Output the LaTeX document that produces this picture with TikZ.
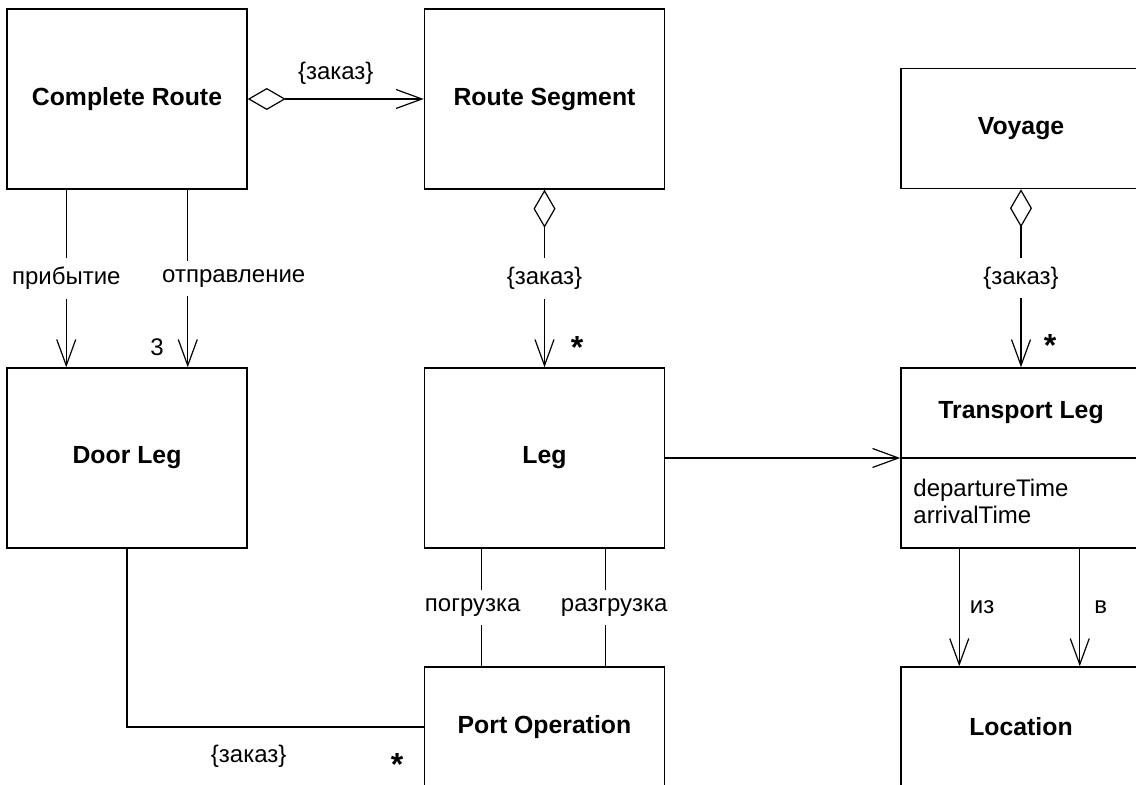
\documentclass[tikz,border=0pt]{standalone}
\usepackage{fontspec}
\setmainfont{Liberation Sans}
\usetikzlibrary{arrows.meta}

\begin{document}
\begin{tikzpicture}[x=0.5pt, y=-0.5pt,
    cls/.style={draw, line width=0.75pt, minimum width=120pt, minimum height=90pt, inner sep=0pt, font=\fontsize{12.4}{14}\selectfont\bfseries},
    clsflat/.style={cls, minimum height=60pt},
    txt/.style={font=\fontsize{12}{13.5}\selectfont, inner sep=2pt},
    lbl/.style={txt, fill=white, inner ysep=4.5pt},
    mult/.style={font=\fontsize{16}{18}\selectfont\bfseries, inner sep=0pt},
    conn/.style={line width=0.6pt},
    nav/.style={conn, -{Straight Barb[length=13pt, width=9.5pt]}},
    agg/.style={conn, {Diamond[open, length=19pt, width=11pt]}-{Straight Barb[length=13pt, width=9.5pt]}}]
    \useasboundingbox (0,0) rectangle (1136,785);
    \clip (0,0) rectangle (1136,785);

    % classes
    \node[cls] (route) at (127,99) {Complete Route};
    \node[cls] (seg) at (544.5,99) {Route Segment};
    \node[clsflat] (voyage) at (1021,128.5) {Voyage};
    \node[cls] (door) at (127,458) {Door Leg};
    \node[cls] (leg) at (544.5,458) {Leg};
    \node[cls] (trans) at (1021,458) {};
    \node[clsflat] (port) at (544.5,727) {Port Operation};
    \node[clsflat] (loc) at (1021,727) {Location};

    % Transport Leg: name and attributes
    \node[font=\fontsize{12.4}{14}\selectfont\bfseries] (transname) at (1021,413) {Transport Leg};
    \draw[line width=0.75pt] (trans.west) -- (trans.east);
    \node[txt, anchor=west, align=left] (transattr) at (909,501) {departureTime\\arrivalTime};

    % aggregations
    \draw[agg] (route) -- node[txt, above=5pt] (routeord) {\{заказ\}} (seg);
    \draw[agg] (seg) -- node[lbl] (segord) {\{заказ\}} (leg);
    \draw[agg] (voyage) -- node[lbl] (voyord) {\{заказ\}} (trans);
    \node[mult] (segmult) at (577,347) {*};
    \node[mult] (voymult) at (1050,345) {*};

    % Complete Route -> Door Leg
    \draw[nav] ([xshift=30pt]route.south west) -- node[lbl] (arrlbl) {прибытие} ([xshift=30pt]door.north west);
    \draw[nav] ([xshift=-30pt]route.south east) -- node[lbl, xshift=23pt] (deplbl) {отправление} ([xshift=-30pt]door.north east);
    \node[txt, inner sep=0pt] (doormult) at (157,347) {3};

    % Leg -> Port Operation
    \draw[conn] ([xshift=29pt]leg.south west) -- node[lbl, xshift=-4.5pt] (loadlbl) {погрузка} ([xshift=29pt]port.north west);
    \draw[conn] ([xshift=-30pt]leg.south east) -- node[lbl, xshift=4.5pt] (unloadlbl) {разгрузка} ([xshift=-30pt]port.north east);

    % Door Leg -> Port Operation
    \draw[conn] (door.south) |- node[txt, pos=0.705, below=7pt] (doorord) {\{заказ\}} (port.west);
    \node[mult] (portmult) at (397,764) {*};

    % Leg -> Transport Leg
    \draw[nav] (leg) -- (trans);

    % Transport Leg -> Location
    \draw[nav] ([xshift=29.5pt]trans.south west) -- node[txt, right=3pt] (fromlbl) {из} ([xshift=29.5pt]loc.north west);
    \draw[nav] ([xshift=-31pt]trans.south east) -- node[txt, right=5pt] (tolbl) {в} ([xshift=-31pt]loc.north east);
\end{tikzpicture}
\end{document}
